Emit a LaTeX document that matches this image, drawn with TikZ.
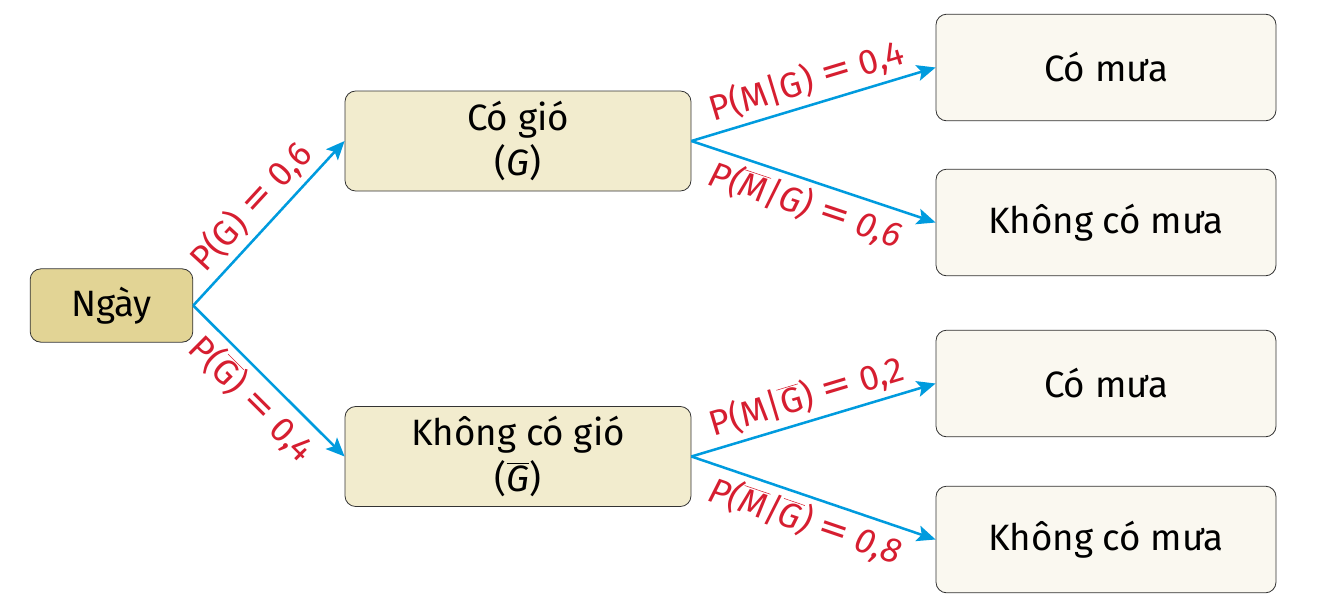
\documentclass[tikz,border=0pt]{standalone}
\usepackage{fontspec}
\setmainfont{Fira Sans}
\usetikzlibrary{arrows.meta}
\definecolor{tanA}{RGB}{226,212,149}
\definecolor{tanB}{RGB}{242,236,206}
\definecolor{tanC}{RGB}{250,248,240}
\definecolor{arrblue}{RGB}{0,155,222}
\definecolor{lblred}{RGB}{214,30,48}
\newcommand\ovl[1]{$\overline{\hbox{#1}}$}
\newcommand\eqs{ \scalebox{1.7}[1.15]{\upshape =} }
\begin{document}
\begin{tikzpicture}[x=0.75pt,y=-0.75pt,
  box/.style={draw=black!80,line width=0.6pt,rounded corners=8pt,inner sep=0pt,align=center,font=\fontsize{27.5}{33}\selectfont},
  rootbox/.style={box,fill=tanA,minimum width=122pt,minimum height=55pt},
  midbox/.style={box,fill=tanB,minimum width=259.5pt,minimum height=75pt},
  leafbox/.style={box,fill=tanC,minimum width=255pt,minimum height=80pt},
  arr/.style={draw=arrblue,line width=1.9pt,-{Stealth[length=14pt,width=12pt,inset=3pt]}},
  lbl/.style={text=lblred,font=\fontsize{26.5}{30}\selectfont,sloped,midway,inner sep=4pt}
]
\useasboundingbox (0,0) rectangle (1325,611);
\node[rootbox] (ngay) at (111.5,305.5) {Ngày};
\node[midbox] (cg) at (518,141) {Có gió\\[1pt](\textit{G})};
\node[midbox] (kg) at (518,456.5) {Không có gió\\[1pt](\ovl{\textit{G}})};
\node[leafbox] (m1) at (1106,67.5) {Có mưa};
\node[leafbox] (k1) at (1106,222.5) {Không có mưa};
\node[leafbox] (m2) at (1106,383.5) {Có mưa};
\node[leafbox] (k2) at (1106,539.5) {Không có mưa};
\draw[arr] (ngay.east) -- (cg.west) node[lbl,above] {P(G)\eqs0,6};
\draw[arr] (ngay.east) -- (kg.west) node[lbl,below] {P(\ovl{G})\eqs0,4};
\draw[arr] (cg.east) -- (m1.west) node[lbl,above] {P(M|G)\eqs0,4};
\draw[arr] (cg.east) -- (k1.west) node[lbl,below] {\itshape P(\ovl{\itshape M}|G)\eqs0,6};
\draw[arr] (kg.east) -- (m2.west) node[lbl,above] {P(M|\ovl{G})\eqs0,2};
\draw[arr] (kg.east) -- (k2.west) node[lbl,below] {\itshape P(\ovl{\itshape M}|\ovl{\itshape G})\eqs0,8};
\end{tikzpicture}
\end{document}
